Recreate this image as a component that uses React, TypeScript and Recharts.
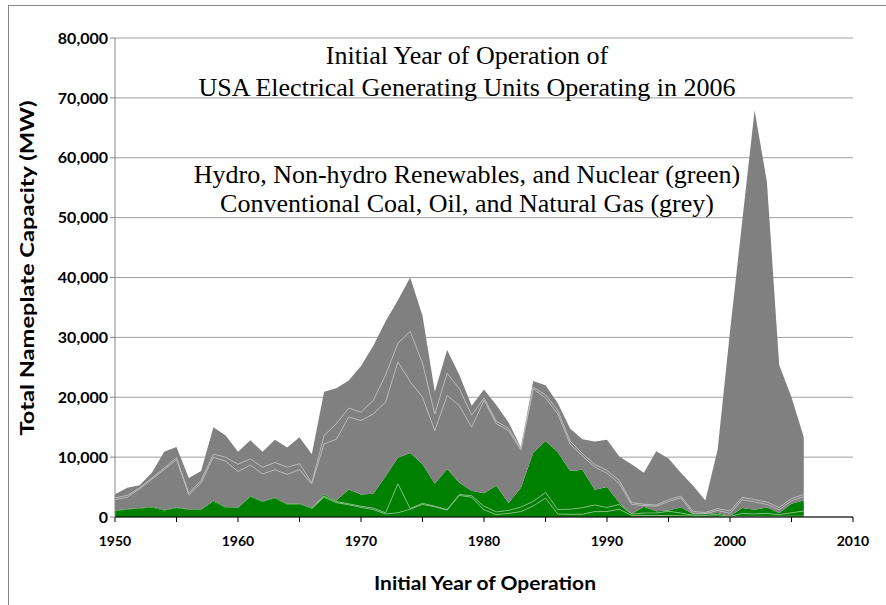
import React from 'react';
import { ComposedChart, Area, Line, XAxis, YAxis, CartesianGrid } from 'recharts';

const years = [
  1950, 1951, 1952, 1953, 1954, 1955, 1956, 1957, 1958, 1959,
  1960, 1961, 1962, 1963, 1964, 1965, 1966, 1967, 1968, 1969,
  1970, 1971, 1972, 1973, 1974, 1975, 1976, 1977, 1978, 1979,
  1980, 1981, 1982, 1983, 1984, 1985, 1986, 1987, 1988, 1989,
  1990, 1991, 1992, 1993, 1994, 1995, 1996, 1997, 1998, 1999,
  2000, 2001, 2002, 2003, 2004, 2005, 2006,
];

// MW per initial year of operation
const hydro = [
  1000, 1250, 1400, 1600, 1100, 1500, 1200, 1200, 2600, 1550,
  1500, 3400, 2550, 3150, 2100, 2150, 1400, 3300, 2400, 2050,
  1600, 1250, 500, 700, 1300, 2100, 1700, 1150, 3600, 3300,
  1200, 400, 600, 900, 1850, 3150, 500, 450, 450, 900,
  900, 1300, 250, 250, 250, 250, 200, 150, 150, 150,
  50, 100, 100, 100, 100, 150, 150,
];
const renew = [
  100, 100, 100, 100, 100, 100, 100, 100, 150, 100,
  100, 100, 100, 100, 100, 100, 100, 200, 200, 150,
  200, 250, 200, 4850, 100, 200, 100, 100, 160, 250,
  600, 450, 500, 750, 750, 950, 740, 850, 1100, 1100,
  700, 800, 250, 420, 420, 700, 470, 150, 150, 250,
  50, 500, 400, 500, 300, 550, 850,
];
const nuclear = [
  0, 0, 0, 0, 0, 0, 0, 0, 0, 0,
  0, 0, 0, 0, 0, 0, 0, 260, 150, 2400,
  1960, 2400, 6100, 4350, 9300, 6500, 3750, 6750, 1940, 850,
  2150, 4350, 1250, 3250, 8150, 8600, 9560, 6400, 6350, 2550,
  3400, 260, 0, 1030, 280, 120, 960, 200, 200, 270,
  50, 900, 700, 1000, 270, 1500, 1750,
];
const coal = [
  1800, 1950, 3200, 4600, 6700, 8000, 2400, 4400, 7250, 7650,
  6000, 5200, 4550, 4650, 4900, 5650, 4000, 8440, 10250, 12100,
  12340, 13300, 12400, 16000, 11900, 11200, 8850, 12300, 12900, 10600,
  15550, 10400, 12050, 6300, 10650, 7200, 6400, 4500, 2300, 3800,
  2300, 3240, 1600, 200, 850, 1530, 1570, 50, 50, 430,
  450, 1400, 1300, 500, 530, 500, 650,
];
const oil = [
  300, 300, 200, 200, 300, 300, 300, 400, 500, 700,
  1200, 1000, 1100, 1200, 1200, 1000, 200, 1400, 2600, 1500,
  1400, 2300, 4500, 3100, 8400, 5700, 2800, 3700, 2800, 2000,
  350, 400, 400, 200, 300, 500, 600, 500, 400, 450,
  500, 500, 300, 250, 200, 300, 300, 350, 200, 300,
  400, 400, 400, 400, 400, 400, 360,
];
const gas = [
  600, 1300, 400, 900, 2700, 1800, 2500, 1600, 4500, 3600,
  2100, 3100, 2600, 3800, 3300, 4400, 4800, 7300, 5900, 4600,
  7700, 9100, 9000, 7200, 9000, 7900, 3700, 3900, 2300, 1600,
  1450, 2700, 1000, 200, 1000, 1600, 1200, 2100, 2400, 3800,
  5100, 4000, 6400, 5250, 9000, 6850, 3900, 4300, 2000, 9900,
  30000, 46200, 65000, 53500, 23800, 16900, 9540,
];

const xTicks = [1950, 1955, 1960, 1965, 1970, 1975, 1980, 1985, 1990, 1995, 2000, 2005, 2010];
const yTicks = [0, 10000, 20000, 30000, 40000, 50000, 60000, 70000, 80000];

const titleLines = [
  'Initial Year of Operation of',
  'USA Electrical Generating Units Operating in 2006',
  'Hydro, Non-hydro Renewables, and Nuclear (green)',
  'Conventional Coal, Oil, and Natural Gas (grey)',
];
const xTitle = 'Initial Year of Operation';
const yTitle = 'Total Nameplate Capacity (MW)';

// green outline of the thin renewables layer is only visible once nuclear capacity appears
const FIRST_GREEN_OUTLINE_YEAR = 1966;

const data = years.map((year, i) => {
  const hTop = hydro[i];
  const rTop = hTop + renew[i];
  const gTop = rTop + nuclear[i];
  const cTop = gTop + coal[i];
  const oTop = cTop + oil[i];
  const showGreen = year >= FIRST_GREEN_OUTLINE_YEAR;
  return {
    year,
    hydro: hydro[i],
    renew: renew[i],
    nuclear: nuclear[i],
    coal: coal[i],
    oil: oil[i],
    gas: gas[i],
    hydroTop: showGreen ? hTop : null,
    renewTop: showGreen ? rTop : null,
    coalTop: cTop,
    oilTop: oTop,
  };
});

const GREEN = '#008000';
const GREY = '#808080';
const labelFont = 'Lato, "Open Sans", sans-serif';

export default function App() {
  return (
    <div style={{ position: 'absolute', left: 0, top: 0, width: 886, height: 605, overflow: 'hidden', background: '#fff' }}>
      <div style={{ position: 'absolute', left: 8, top: 5, width: 900, height: 640, border: '1px solid #888', boxSizing: 'border-box' }} />
      <div style={{ position: 'absolute', left: 0, top: 0 }}>
        <ComposedChart
          width={886}
          height={605}
          data={data}
          margin={{ top: 38, right: 33, bottom: 48, left: 45 }}
        >
          <CartesianGrid vertical={false} stroke="#a0a0a0" strokeWidth={1} />
          <XAxis
            dataKey="year"
            type="number"
            domain={[1950, 2010]}
            ticks={xTicks}
            interval={0}
            height={40}
            stroke="#000"
            tickSize={5}
            tickMargin={14}
            tickFormatter={(v: number) => (v % 10 === 0 ? String(v) : '')}
            tick={{ fill: '#000', fontSize: 14, fontWeight: 700, fontFamily: labelFont }}
          />
          <YAxis
            type="number"
            domain={[0, 80000]}
            ticks={yTicks}
            interval={0}
            width={70}
            stroke="#868686"
            tickSize={5}
            tickMargin={2}
            tickFormatter={(v: number) => v.toLocaleString('en-US')}
            tick={{ fill: '#000', fontSize: 16, fontWeight: 700, fontFamily: labelFont }}
          />
          <Area type="linear" dataKey="hydro" stackId="1" fill={GREEN} stroke="none" fillOpacity={1} isAnimationActive={false} />
          <Area type="linear" dataKey="renew" stackId="1" fill={GREEN} stroke="none" fillOpacity={1} isAnimationActive={false} />
          <Area type="linear" dataKey="nuclear" stackId="1" fill={GREEN} stroke="none" fillOpacity={1} isAnimationActive={false} />
          <Area type="linear" dataKey="coal" stackId="1" fill={GREY} stroke="none" fillOpacity={1} isAnimationActive={false} />
          <Area type="linear" dataKey="oil" stackId="1" fill={GREY} stroke="none" fillOpacity={1} isAnimationActive={false} />
          <Area type="linear" dataKey="gas" stackId="1" fill={GREY} stroke="none" fillOpacity={1} isAnimationActive={false} />
          <Line type="linear" dataKey="hydroTop" stroke="#8fc08f" strokeWidth={0.8} dot={false} activeDot={false} isAnimationActive={false} />
          <Line type="linear" dataKey="renewTop" stroke="#8fc08f" strokeWidth={0.8} dot={false} activeDot={false} isAnimationActive={false} />
          <Line type="linear" dataKey="coalTop" stroke="#bdbdbd" strokeWidth={0.8} dot={false} activeDot={false} isAnimationActive={false} />
          <Line type="linear" dataKey="oilTop" stroke="#bdbdbd" strokeWidth={0.8} dot={false} activeDot={false} isAnimationActive={false} />
        </ComposedChart>
      </div>
      <svg width={886} height={605} style={{ position: 'absolute', left: 0, top: 0, pointerEvents: 'none' }}>
        <g fontFamily='"Liberation Serif", "Times New Roman", serif' fontSize={26} fill="#000" textAnchor="middle">
          <text x={467} y={64}>{titleLines[0]}</text>
          <text x={467} y={96}>{titleLines[1]}</text>
          <text x={467} y={183}>{titleLines[2]}</text>
          <text x={467} y={212}>{titleLines[3]}</text>
        </g>
        <text x={485} y={590} textAnchor="middle" fontFamily={labelFont} fontWeight={700} fontSize={18} textLength={222} lengthAdjust="spacingAndGlyphs" fill="#000">{xTitle}</text>
        <text transform="translate(34,268) rotate(-90)" textAnchor="middle" fontFamily={labelFont} fontWeight={700} fontSize={18} textLength={335} lengthAdjust="spacingAndGlyphs" fill="#000">{yTitle}</text>
      </svg>
    </div>
  );
}
